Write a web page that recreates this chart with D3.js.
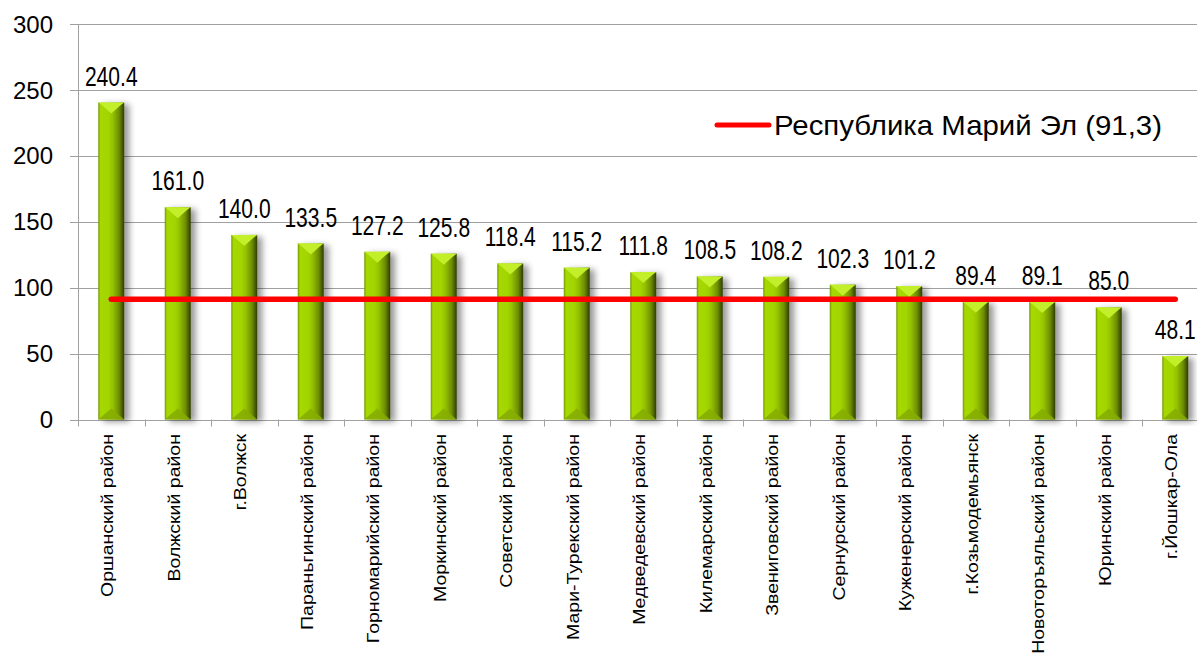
<!DOCTYPE html>
<html>
<head>
<meta charset="utf-8">
<script src="https://cdn.jsdelivr.net/npm/d3@7"></script>
<style>
  html, body { margin: 0; padding: 0; background: #fff; }
  svg { display: block; font-family: "Liberation Sans", Arial, sans-serif; }
</style>
</head>
<body>
<div id="chart"></div>
<script>
// data
var categories = [
  "Оршанский район", "Волжский район", "г.Волжск", "Параньгинский район",
  "Горномарийский район", "Моркинский район", "Советский район",
  "Мари-Турекский район", "Медведевский район", "Килемарский район",
  "Звениговский район", "Сернурский район", "Куженерский район",
  "г.Козьмодемьянск", "Новоторъяльский район", "Юринский район", "г.Йошкар-Ола"
];
var values = [240.4, 161.0, 140.0, 133.5, 127.2, 125.8, 118.4, 115.2, 111.8,
  108.5, 108.2, 102.3, 101.2, 89.4, 89.1, 85.0, 48.1];
var republicValue = 91.3;
var republicLabel = "Республика Марий Эл (91,3)";
var yTicks = [0, 50, 100, 150, 200, 250, 300];

var w = 1197;
var h = 654;
// plot frame (note: "top" is taken by window.top, so use other names)
var plotLeft = 78, plotTop = 24, plotBottom = 419.5;
var step = 66.5;

var svg = d3.select("#chart")
  .append("svg")
  .attr("width", w)
  .attr("height", h);

var defs = svg.append("defs");

// body gradient of the bevelled bars
var grad = defs.append("linearGradient").attr("id", "barBody");
[["0%", "#6f9400"], ["8%", "#a6d800"], ["40%", "#a2d400"], ["55%", "#95c300"],
 ["80%", "#6e8e00"], ["100%", "#2f3c00"]].forEach(function(s) {
  grad.append("stop").attr("offset", s[0]).attr("stop-color", s[1]);
});

var shadow = defs.append("filter").attr("id", "shadow")
  .attr("x", "-30%").attr("y", "-10%").attr("width", "180%").attr("height", "120%");
shadow.append("feDropShadow")
  .attr("dx", 5).attr("dy", 2).attr("stdDeviation", 3)
  .attr("flood-color", "#000").attr("flood-opacity", 0.4);

var x = d3.scaleBand()
  .domain(categories)
  .range([plotLeft, plotLeft + step * categories.length])
  .paddingInner(0.61)
  .paddingOuter(0.305);

var y = d3.scaleLinear()
  .domain([0, 300])
  .range([plotBottom, plotTop]);

// gridlines
svg.append("g")
  .selectAll("line")
  .data(yTicks)
  .enter()
  .append("line")
  .attr("x1", plotLeft - 8)
  .attr("x2", w)
  .attr("y1", function(d) { return Math.round(y(d)) + 0.5; })
  .attr("y2", function(d) { return Math.round(y(d)) + 0.5; })
  .attr("stroke", "#a0a0a0")
  .attr("stroke-width", 1);

// y axis line
svg.append("line")
  .attr("x1", plotLeft + 0.5).attr("x2", plotLeft + 0.5)
  .attr("y1", plotTop).attr("y2", plotBottom + 7)
  .attr("stroke", "#a0a0a0");

// y tick labels
svg.append("g")
  .selectAll("text")
  .data(yTicks)
  .enter()
  .append("text")
  .attr("x", 53)
  .attr("y", function(d) { return y(d); })
  .attr("dy", "0.36em")
  .attr("text-anchor", "end")
  .attr("font-size", 24)
  .text(function(d) { return d; });

// x tick marks between categories
svg.append("g")
  .selectAll("line")
  .data(categories.slice(1))
  .enter()
  .append("line")
  .attr("x1", function(d) { return Math.round(x(d) - x.step() * x.paddingInner() / 2) + 0.5; })
  .attr("x2", function(d) { return Math.round(x(d) - x.step() * x.paddingInner() / 2) + 0.5; })
  .attr("y1", plotBottom)
  .attr("y2", plotBottom + 7)
  .attr("stroke", "#a0a0a0");

// bars
var bars = svg.append("g")
  .selectAll("g")
  .data(values)
  .enter()
  .append("g")
  .attr("filter", "url(#shadow)");

var bw = x.bandwidth();
var bev = 11;

bars.append("rect")
  .attr("x", function(d, i) { return x(categories[i]); })
  .attr("y", function(d) { return y(d); })
  .attr("width", bw)
  .attr("height", function(d) { return y(0) - y(d); })
  .attr("fill", "url(#barBody)");

// top facet
bars.append("path")
  .attr("d", function(d, i) {
    var x0 = x(categories[i]), y0 = y(d);
    return "M" + x0 + "," + y0 + "L" + (x0 + bw) + "," + y0 +
      "L" + (x0 + bw - 4) + "," + (y0 + 3) + "L" + (x0 + bw / 2) + "," + (y0 + bev) +
      "L" + (x0 + 4) + "," + (y0 + 3) + "Z";
  })
  .attr("fill", "#c2ee2a");

// bottom facet
bars.append("path")
  .attr("d", function(d, i) {
    var x0 = x(categories[i]), y0 = y(0);
    return "M" + x0 + "," + y0 + "L" + (x0 + bw) + "," + y0 +
      "L" + (x0 + bw / 2) + "," + (y0 - bev) + "Z";
  })
  .attr("fill", "#86ad00")
  .attr("opacity", 0.9);

// value labels
svg.append("g")
  .selectAll("text")
  .data(values)
  .enter()
  .append("text")
  .attr("transform", function(d, i) {
    return "translate(" + (x(categories[i]) + bw / 2) + "," + (y(d) - 17) + ") scale(0.78,1)";
  })
  .attr("text-anchor", "middle")
  .attr("font-size", 27)
  .text(function(d) { return d.toFixed(1); });

// category labels, rotated
svg.append("g")
  .selectAll("text")
  .data(categories)
  .enter()
  .append("text")
  .attr("transform", function(d) {
    return "translate(" + (x(d) + bw / 2 + 2) + "," + 434 + ") scale(1,1.22) rotate(-90)";
  })
  .attr("text-anchor", "end")
  .attr("font-size", 16)
  .text(function(d) { return d; });

// republic average line
svg.append("line")
  .attr("x1", x(categories[0]) + bw / 2)
  .attr("x2", x(categories[categories.length - 1]) + bw / 2)
  .attr("y1", y(republicValue))
  .attr("y2", y(republicValue))
  .attr("stroke", "#ff0000")
  .attr("stroke-width", 5.5)
  .attr("stroke-linecap", "round");

// legend
svg.append("line")
  .attr("x1", 717).attr("x2", 769)
  .attr("y1", 125).attr("y2", 125)
  .attr("stroke", "#ff0000")
  .attr("stroke-width", 5)
  .attr("stroke-linecap", "round");

svg.append("text")
  .attr("x", 774)
  .attr("y", 135)
  .attr("font-size", 28)
  .attr("textLength", 388)
  .attr("lengthAdjust", "spacingAndGlyphs")
  .text(republicLabel);
</script>
</body>
</html>
